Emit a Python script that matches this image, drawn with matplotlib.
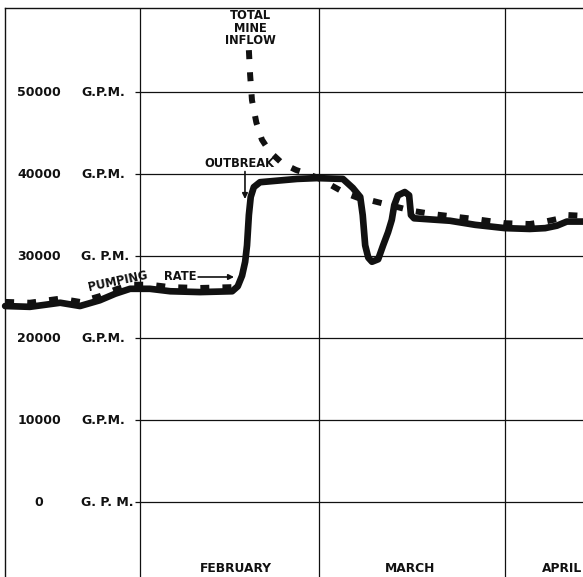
"""Mine inflow vs pumping rate around the outbreak (Feb - Apr)."""
import matplotlib
matplotlib.use("Agg")
import matplotlib.pyplot as plt
import numpy as np

# x is in days, counted from 1 February
month_names = ["FEBRUARY", "MARCH", "APRIL"]
month_starts = [0, 29, 59]

y_ticks = [50000, 40000, 30000, 20000, 10000, 0]
y_units = ["G.P.M.", "G.P.M.", "G. P.M.", "G.P.M.", "G.P.M.", "G. P. M."]

pump_day = [-21.8, -17.8, -12.9, -9.7, -6.5, -4.0, -1.6, 1.6, 4.9, 9.7,
            14.9, 15.8, 16.5, 17.0, 17.3, 17.6, 17.9, 18.4, 19.4, 25.4,
            28.6, 32.8, 34.4, 35.6, 36.0, 36.4, 36.9, 37.5, 38.5, 39.3,
            40.1, 40.7, 41.1, 41.7, 42.8, 43.5, 43.8, 44.3, 50.1, 54.2,
            59.0, 63.0, 65.5, 67.4, 69.0, 71.6]
pump_gpm = [23900, 23800, 24300, 23900, 24600, 25400, 26000, 26000, 25700, 25600,
            25700, 26300, 27600, 29300, 31300, 35000, 37200, 38400, 39000, 39400,
            39500, 39400, 38300, 37200, 35000, 31300, 29800, 29300, 29600, 31300,
            32900, 34400, 36200, 37400, 37800, 37400, 35000, 34600, 34300, 33800,
            33400, 33300, 33400, 33700, 34200, 34200]

inflow_day = [-21.8, -17.8, -12.9, -9.7, -6.5, -4.0, -1.6, 1.6, 4.9, 9.7,
              14.9, 16.0, 17.6, 17.8, 18.1, 18.8, 19.7, 21.0, 23.0, 25.2,
              27.5, 29.1, 31.2, 33.1, 35.2, 37.2, 40.9, 44.1, 47.4, 54.2,
              59.0, 63.0, 65.5, 67.4, 69.0, 71.6]
inflow_gpm = [24400, 24300, 24800, 24400, 25100, 25900, 26500, 26500, 26200, 26100,
              26200, np.nan, 55100, 52100, 49000, 46300, 44200, 42700, 41300, 40500,
              39900, 39400, 38500, 37700, 37100, 36800, 36100, 35500, 35100, 34500,
              34000, 33900, 34200, 34500, 35000, 34900]

INK = "#111111"
FONT = dict(family="DejaVu Sans", weight="bold", color=INK)

fig = plt.figure(figsize=(5.83, 5.77), dpi=100)
ax = fig.add_axes([0, 0, 1, 1])
ax.set_xlim(-22.63, 71.61)
ax.set_ylim(-9146, 61220)
ax.axis("off")

# frame and grid
frame_left, frame_top = -21.9, 60240
ax.axvline(frame_left, ymax=(frame_top + 9146) / 70366, color=INK, lw=1.0)
ax.axhline(frame_top, xmin=(frame_left + 22.63) / 94.24, color=INK, lw=1.0)
ax.hlines(y_ticks, -0.8, 71.61, color=INK, lw=0.9)
ax.vlines(month_starts, -9146, frame_top, color=INK, lw=0.9)

for v, unit in zip(y_ticks, y_units):
    ax.text(-16.3, v, str(v), ha="center", va="center", fontsize=9, **FONT)
    ax.text(-9.5, v, unit, ha="left", va="center", fontsize=9, **FONT)

month_label_x = [15.5, 43.6, 68.2]
for name, x in zip(month_names, month_label_x):
    ax.text(x, -8050, name, ha="center", va="center", fontsize=8.8, **FONT)

# series
ax.plot(inflow_day, inflow_gpm, color=INK, lw=4.3, dashes=(1.5, 2.2),
        dash_capstyle="butt", zorder=3)
ax.plot(pump_day, pump_gpm, color=INK, lw=4.8, solid_joinstyle="round",
        solid_capstyle="round", zorder=4)

# annotations
ax.text(17.8, 57800, "TOTAL\nMINE\nINFLOW", ha="center", va="center",
        fontsize=8.3, linespacing=0.95, **FONT)
ax.text(16.0, 41220, "OUTBREAK", ha="center", va="center", fontsize=8.3, **FONT)
ax.annotate("", xy=(16.97, 36950), xytext=(16.97, 40300),
            arrowprops=dict(arrowstyle="-|>", color=INK, lw=1.2,
                            mutation_scale=8, shrinkA=0, shrinkB=0))
ax.text(-3.6, 26900, "PUMPING", ha="center", va="center", fontsize=8.3,
        rotation=12, **FONT)
ax.text(6.5, 27440, "RATE", ha="center", va="center", fontsize=8.3, **FONT)
ax.annotate("", xy=(15.2, 27440), xytext=(9.4, 27440),
            arrowprops=dict(arrowstyle="-|>", color=INK, lw=1.2,
                            mutation_scale=8, shrinkA=0, shrinkB=0))

fig.savefig("out.png", dpi=100)
